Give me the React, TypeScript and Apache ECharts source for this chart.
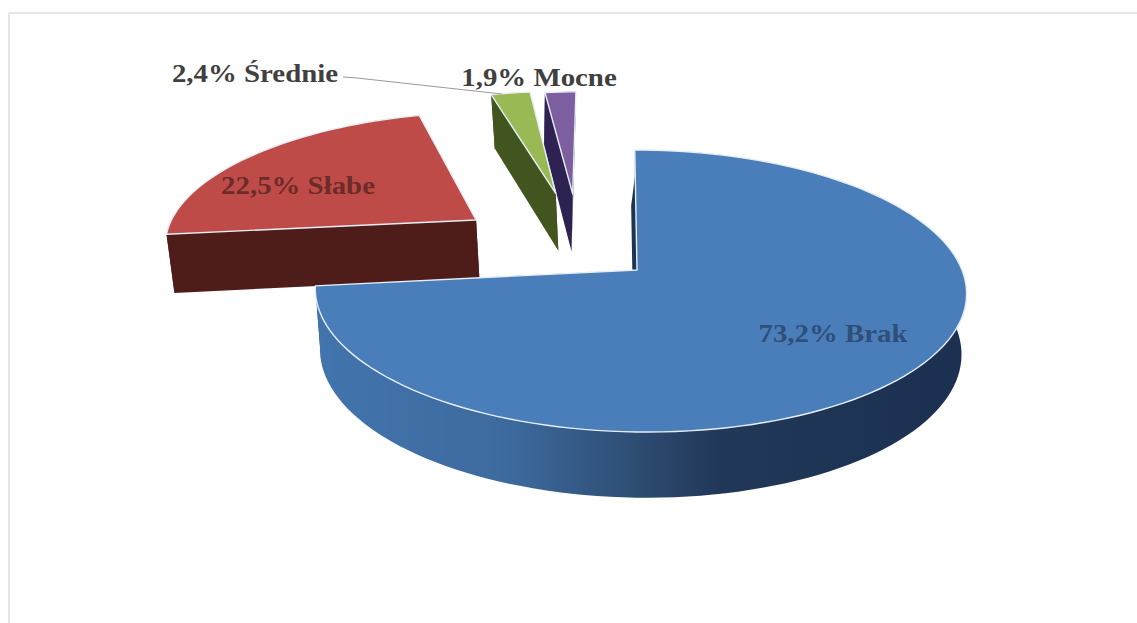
import React, { useEffect, useRef } from "react";
import * as echarts from "echarts";

// Shares of each answer, in percent, clockwise from twelve o'clock.
const names = ["Brak", "Słabe", "Średnie", "Mocne"];
const shares = [73.2, 22.5, 2.4, 1.9];
const shareTexts = ["73,2%", "22,5%", "2,4%", "1,9%"];

const topColors = ["#4a7ebb", "#be4b48", "#98b954", "#7d5fa0"];
const wallColors = ["#1d3350", "#4f1d19", "#43551f", "#2e2252"];
const labelColors = ["#2f4e78", "#6c2b29", "#404040", "#404040"];
const labelAnchors = [
  [833, 333],
  [298, 185],
  [255, 73],
  [539, 77],
];

// Exploded offset of each slice on the pie's own plane, in units of its radius.
const explode = [
  [0, 0],
  [-0.531, 0.383],
  [-0.274, 0.605],
  [-0.2165, 0.6],
];
// Sideways drift of each slice's underside, in pixels.
const undersideDrift = [0, 1, 1.5, -2];

// Perspective of the tilted pie.
const CX = 640;
const CY = 270;
const SX = 322;
const SY = 137.9;
const PERSP = 0.149;
const LEAN = 6;
// The large slice's point sits a little left of the plate's centre.
const MAIN_APEX_NUDGE = -3;

// The underside of the pie, seen through the same camera.
const BOTTOM_VX = 628;
const BOTTOM_SCALE = 0.985;
const DEPTH = 60;
const DEPTH_GROW = 0.035;

type Pt = [number, number];

const projectTop = (u: number, v: number): Pt => {
  const d = 1 + PERSP * v;
  return [CX + (SX * u) / d - (LEAN * v) / d, CY - (SY * v) / d];
};

const toBottom = (p: Pt, drift = 0): Pt => [
  BOTTOM_VX + (p[0] - BOTTOM_VX) * BOTTOM_SCALE + drift,
  p[1] + DEPTH + DEPTH_GROW * (p[1] - CY),
];

const sideGradient = new echarts.graphic.LinearGradient(0, 0, 1, 0, [
  { offset: 0, color: "#4274ad" },
  { offset: 0.3, color: "#3d6a9e" },
  { offset: 0.5, color: "#2d4b70" },
  { offset: 0.62, color: "#213859" },
  { offset: 1, color: "#1b3050" },
]);

const sliceArc = (index: number): { pts: Pt[]; apex: Pt } => {
  const total = shares.reduce((a, b) => a + b, 0);
  const before = shares.slice(0, index).reduce((a, b) => a + b, 0);
  const from = (before / total) * Math.PI * 2;
  const to = ((before + shares[index]) / total) * Math.PI * 2;
  const [ou, ov] = explode[index];
  const steps = Math.max(4, Math.ceil(((to - from) * 180) / Math.PI / 2));
  const pts: Pt[] = [];
  for (let i = 0; i <= steps; i++) {
    const a = from + ((to - from) * i) / steps;
    pts.push(projectTop(ou + Math.sin(a), ov + Math.cos(a)));
  }
  const apex = projectTop(ou, ov);
  if (index === 0) apex[0] += MAIN_APEX_NUDGE;
  return { pts, apex };
};

const renderSlice = (params: any, api: any) => {
  const index = api.value(0) as number;
  const { pts, apex } = sliceArc(index);
  const drift = undersideDrift[index];
  const first = pts[0];
  const last = pts[pts.length - 1];
  const low = (p: Pt) => toBottom(p, drift);
  const side = index === 0 ? sideGradient : wallColors[index];
  // The large slice's cut face only shows as a tapering sliver beside its straight edge.
  const startWall: Pt[] =
    index === 0
      ? [
          apex,
          [first[0] + (apex[0] - first[0]) * 0.2, first[1] + (apex[1] - first[1]) * 0.2],
          [toBottom(first)[0] - 3.5, toBottom(first)[1]],
          [toBottom(apex)[0] - 3.5, toBottom(apex)[1]],
        ]
      : [apex, first, low(first), low(apex)];
  return {
    type: "group",
    children: [
      {
        type: "polygon",
        shape: { points: [apex, last, low(last), low(apex)] },
        style: { fill: wallColors[index] },
      },
      {
        type: "polygon",
        shape: { points: [...pts, ...pts.map(low).reverse()] },
        style: { fill: side },
      },
      {
        type: "polygon",
        shape: { points: startWall },
        style: { fill: wallColors[index] },
      },
      {
        type: "polygon",
        shape: { points: [apex, ...pts] },
        style: { fill: topColors[index], stroke: "#e6eef6", lineWidth: 1.4, lineJoin: "round" },
      },
    ],
  };
};

const renderLabel = (params: any, api: any) => {
  const index = api.value(0) as number;
  const [x, y] = labelAnchors[index];
  return {
    type: "text",
    x,
    y,
    scaleX: 1.11,
    style: {
      text: `${shareTexts[index]} ${names[index]}`,
      font: 'bold 26px "Liberation Serif", serif',
      fill: labelColors[index],
      align: "center",
      verticalAlign: "middle",
    },
  };
};

const App = () => {
  const ref = useRef<HTMLDivElement>(null);
  useEffect(() => {
    const chart = echarts.init(ref.current!, null, { renderer: "svg" });
    const drawOrder = names.map((_, i) => i).reverse();
    chart.setOption({
      animation: false,
      backgroundColor: "#ffffff",
      graphic: [
        { type: "line", shape: { x1: 9, y1: 13, x2: 1137, y2: 13 }, style: { stroke: "#dcdcdc", lineWidth: 1.5 }, silent: true },
        { type: "line", shape: { x1: 9, y1: 13, x2: 9, y2: 623 }, style: { stroke: "#dcdcdc", lineWidth: 1.5 }, silent: true },
      ],
      series: [
        {
          type: "custom",
          coordinateSystem: "none",
          silent: true,
          renderItem: renderSlice,
          data: drawOrder.map((i) => [i, shares[i]]),
          z: 2,
        },
        {
          type: "custom",
          coordinateSystem: "none",
          silent: true,
          renderItem: renderLabel,
          data: names.map((_, i) => [i, shares[i]]),
          z: 4,
        },
        {
          // Leader from the "Średnie" label to its slice.
          type: "custom",
          coordinateSystem: "none",
          silent: true,
          renderItem: () => ({
            type: "polyline",
            shape: { points: [[343, 77], [357, 78], [490, 92.7], [502, 94]] },
            style: { stroke: "#9a9a9a", lineWidth: 1, fill: "none" },
          }),
          data: [[2]],
          z: 3,
        },
      ],
    });
    return () => chart.dispose();
  }, []);
  return (
    <div
      ref={ref}
      style={{ position: "fixed", left: 0, top: 0, width: 1137, height: 623 }}
    />
  );
};

export default App;
